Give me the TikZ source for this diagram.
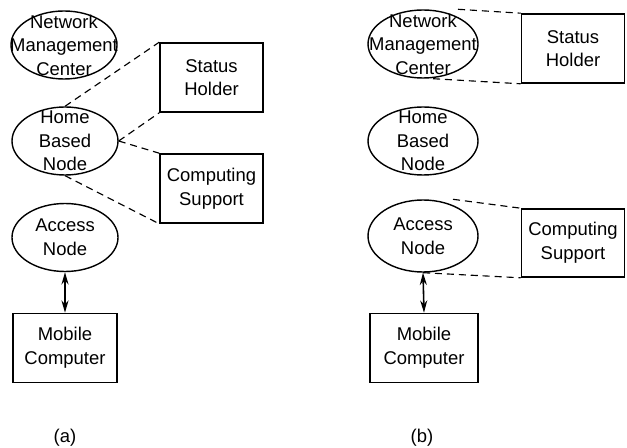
\documentclass[tikz,border=0pt]{standalone}
\usepackage{fontspec}
\setmainfont{Liberation Sans}
\usetikzlibrary{shapes.geometric,arrows.meta}

\begin{document}
\begin{tikzpicture}[
  every node/.style={font=\fontsize{10.5}{13.4}\selectfont, align=center},
  site/.style={ellipse, draw, line width=0.8pt, inner sep=0pt,
    minimum width=2.12cm, minimum height=1.36cm},
  unit/.style={rectangle, draw, line width=0.9pt, inner sep=0pt,
    minimum width=2.06cm, minimum height=1.38cm},
  link/.style={dash pattern=on 4pt off 2.8pt, line width=0.65pt},
  wire/.style={{Stealth[length=7pt,width=4pt]}-{Stealth[length=7pt,width=4pt]},
    line width=0.9pt}]
  \useasboundingbox (0cm, 0cm) rectangle (12.54cm, -8.96cm);

  % (a)
  \node[site, label={center:Network\\Management\\Center}] (nmcA) at (1.28cm, -0.90cm) {};
  \node[site, label={center:Home\\Based\\Node}] (hbnA) at (1.30cm, -2.82cm) {};
  \node[site, label={center:Access\\Node}] (accA) at (1.30cm, -4.75cm) {};
  \node[unit, minimum width=2.08cm] (mobA) at (1.30cm, -6.96cm) {Mobile\\Computer};

  \node[unit] (shA) at (4.23cm, -1.55cm) {Status\\Holder};
  \node[unit] (csA) at (4.23cm, -3.77cm) {Computing\\Support};

  \draw[link] (hbnA.north) -- (shA.north west);
  \draw[link] (hbnA.east) -- (shA.south west);
  \draw[link] (hbnA.east) -- (csA.north west);
  \draw[link] (hbnA.south) -- (csA.south west);
  \draw[wire] (accA.south) -- (mobA.north);

  \node (capA) at (1.30cm, -8.76cm) {(a)};

  % (b)
  \node[site, minimum width=2.20cm, label={center:Network\\Management\\Center}] (nmcB) at (8.46cm, -0.88cm) {};
  \node[site, minimum width=2.20cm, label={center:Home\\Based\\Node}] (hbnB) at (8.46cm, -2.82cm) {};
  \node[site, minimum width=2.20cm, minimum height=1.44cm, label={center:Access\\Node}] (accB) at (8.46cm, -4.72cm) {};
  \node[unit, minimum width=2.16cm] (mobB) at (8.48cm, -6.96cm) {Mobile\\Computer};

  \node[unit] (shB) at (11.46cm, -0.97cm) {Status\\Holder};
  \node[unit, minimum height=1.36cm] (csB) at (11.46cm, -4.86cm) {Computing\\Support};

  \draw[link] ([xshift=0.7cm]nmcB.north) -- (shB.north west);
  \draw[link] ([xshift=0.2cm]nmcB.south) -- (shB.south west);
  \draw[link] ([xshift=0.6cm]accB.north) -- (csB.north west);
  \draw[link] (accB.south) -- (csB.south west);
  \draw[wire] (accB.south) -- (mobB.north);

  \node (capB) at (8.44cm, -8.76cm) {(b)};

\end{tikzpicture}
\end{document}
